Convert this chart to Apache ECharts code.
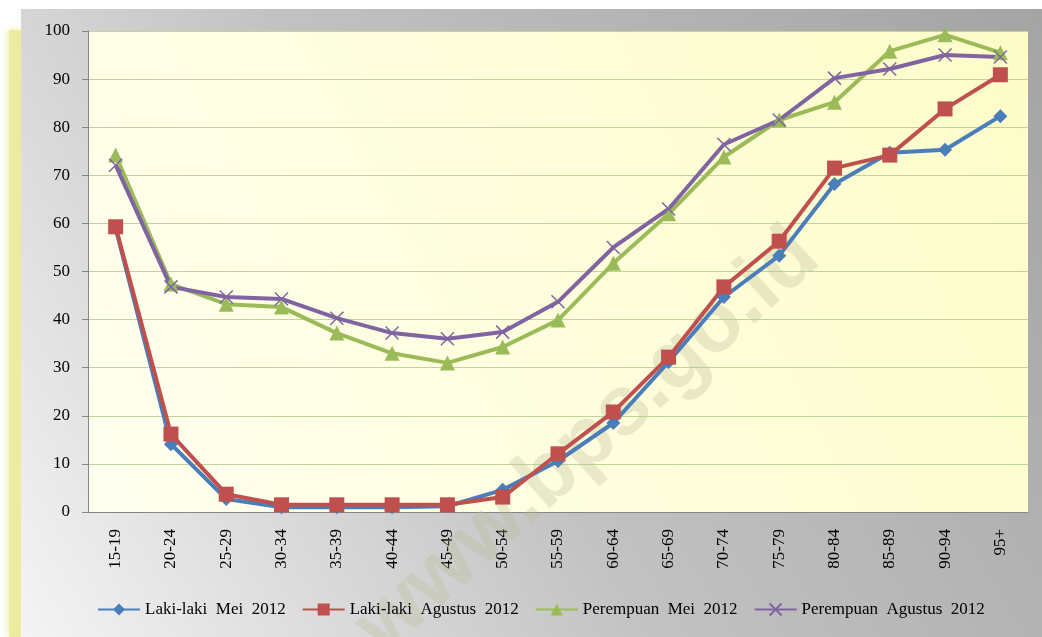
<!DOCTYPE html>
<html>
<head>
<meta charset="utf-8">
<script src="https://cdn.jsdelivr.net/npm/echarts@6/dist/echarts.min.js"></script>
<style>
  html, body { margin: 0; padding: 0; background: #fff; }
  #chart { width: 1042px; height: 637px; }
</style>
</head>
<body>
<div id="chart"></div>
<script>
// kelompok umur
const categories = ['15-19','20-24','25-29','30-34','35-39','40-44','45-49','50-54','55-59',
  '60-64','65-69','70-74','75-79','80-84','85-89','90-94','95+']

const lakiMei = [59.0, 14.1, 2.7, 1.0, 1.0, 1.0, 1.2, 4.6, 10.6, 18.5, 31.2, 44.7, 53.3, 68.2, 74.7, 75.3, 82.3]
const lakiAgustus = [59.3, 16.2, 3.7, 1.5, 1.5, 1.5, 1.5, 3.1, 12.1, 20.8, 32.2, 46.8, 56.3, 71.5, 74.2, 83.8, 90.9]
const perempuanMei = [74.2, 47.4, 43.2, 42.6, 37.2, 33.0, 31.0, 34.3, 39.9, 51.7, 62.0, 73.8, 81.5, 85.2, 95.8, 99.2, 95.5]
const perempuanAgustus = [72.1, 46.8, 44.7, 44.3, 40.3, 37.2, 36.0, 37.4, 43.7, 55.0, 63.0, 76.4, 81.5, 90.2, 92.1, 95.0, 94.6]

const yTicks = {min: 0, max: 100, interval: 10}

const serif = '"Liberation Serif", "DejaVu Serif", serif'
const crossPath = 'path://M0,0L10,10M10,0L0,10'

function makeLine(name, data, color, symbol, size) {
    return {
        name: name,
        type: 'line',
        data: data,
        symbol: symbol,
        symbolSize: size,
        lineStyle: {color: color, width: 4},
        itemStyle: {color: color, borderColor: color, borderWidth: symbol === crossPath ? 1.5 : 0},
        emphasis: {disabled: true},
        animation: false
    }
}

const chart = echarts.init(document.getElementById('chart'))
chart.setOption({
    animation: false,
    graphic: [
        { // strip kuning kiri
            type: 'rect', z: -20,
            shape: {x: 9, y: 30, width: 12, height: 607},
            style: {fill: '#ecec9e', shadowBlur: 8, shadowColor: 'rgba(230,230,140,0.9)'}
        },
        { // panel abu-abu
            type: 'rect', z: -10,
            shape: {x: 21, y: 9, width: 1021, height: 628},
            style: {
                fill: new echarts.graphic.LinearGradient(1, 0, 0, 1, [
                    {offset: 0, color: '#a4a4a4'},
                    {offset: 0.55, color: '#c2c2c2'},
                    {offset: 1, color: '#f4f4f4'}
                ])
            }
        },
        { // watermark
            type: 'text', z: 1,
            x: 588, y: 442, rotation: Math.PI * 42 / 180,
            style: {
                text: 'www.bps.go.id',
                font: 'bold 84px "Liberation Sans", Arial, sans-serif',
                fill: 'rgba(185,185,150,0.3)',
                align: 'center', verticalAlign: 'middle'
            },
            silent: true
        }
    ],
    grid: {
        left: 88, right: 14, top: 31, bottom: 125,
        show: true,
        borderWidth: 0,
        backgroundColor: new echarts.graphic.LinearGradient(1, 0, 0, 1, [
            {offset: 0, color: '#fdfcc8'},
            {offset: 1, color: '#fffff0'}
        ])
    },
    legend: {
        bottom: 14,
        left: 92,
        itemWidth: 42,
        itemHeight: 15,
        itemGap: 16,
        textStyle: {fontFamily: serif, fontSize: 17, color: '#000'},
        data: ['Laki-laki  Mei  2012', 'Laki-laki  Agustus  2012', 'Perempuan  Mei  2012', 'Perempuan  Agustus  2012']
    },
    xAxis: {
        type: 'category',
        data: categories,
        boundaryGap: true,
        axisLine: {lineStyle: {color: '#868686', width: 1}},
        axisTick: {length: 6, lineStyle: {color: '#868686'}},
        axisLabel: {rotate: 90, fontFamily: serif, fontSize: 17, color: '#000', margin: 17},
        splitLine: {show: false}
    },
    yAxis: {
        type: 'value',
        min: yTicks.min, max: yTicks.max, interval: yTicks.interval,
        axisLine: {show: true, lineStyle: {color: '#868686'}},
        axisTick: {show: true, length: 6, lineStyle: {color: '#868686'}},
        axisLabel: {fontFamily: serif, fontSize: 17, color: '#000', margin: 18},
        splitLine: {lineStyle: {color: '#bfd59a', width: 1.2}}
    },
    series: [
        makeLine('Laki-laki  Mei  2012', lakiMei, '#4a7ebb', 'diamond', 14),
        makeLine('Laki-laki  Agustus  2012', lakiAgustus, '#c0504d', 'rect', 15),
        makeLine('Perempuan  Mei  2012', perempuanMei, '#9bbb59', 'triangle', 15),
        makeLine('Perempuan  Agustus  2012', perempuanAgustus, '#8064a2', crossPath, 13)
    ]
})
</script>
</body>
</html>
